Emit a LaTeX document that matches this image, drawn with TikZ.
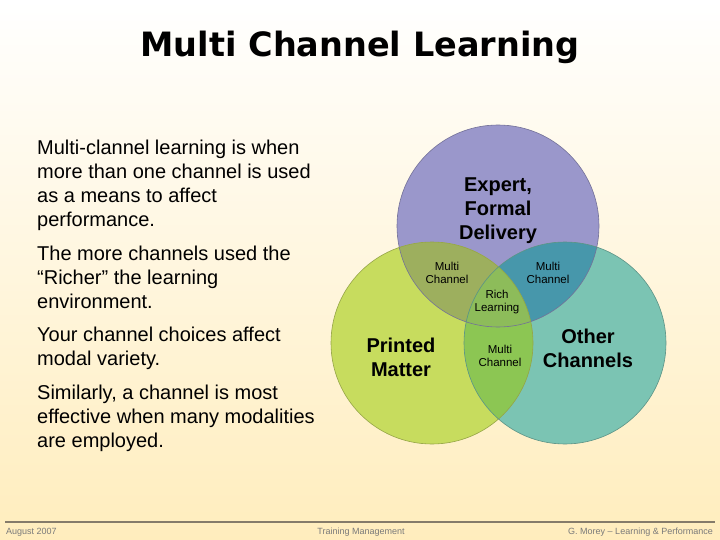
\documentclass[tikz,border=0pt]{standalone}
\usepackage{fontspec}
\setmainfont{Liberation Sans}
\newfontfamily\headfont{DejaVu Sans}
\usetikzlibrary{positioning}
\definecolor{cpurple}{HTML}{9A97CB}
\definecolor{cyellow}{HTML}{C7DC5E}
\definecolor{cteal}{HTML}{7BC4B3}
\definecolor{cpy}{HTML}{9DAF5E}
\definecolor{cpt}{HTML}{4797AB}
\definecolor{cyt}{HTML}{8CC653}
\definecolor{crich}{HTML}{8DBC5A}
\definecolor{cbottom}{HTML}{FFEDBD}
\definecolor{cline}{HTML}{857B6A}
\definecolor{cgrey}{HTML}{7A7A7A}
\tikzset{
  body/.style={anchor=north west, inner sep=0pt, align=left, font=\fontsize{20}{24}\selectfont},
  big/.style={inner sep=0pt, align=center, font=\fontsize{20}{24}\selectfont\bfseries},
  small/.style={inner sep=0pt, align=center, font=\fontsize{11.5}{13.5}\selectfont},
  foot/.style={inner sep=0pt, text=cgrey, font=\fontsize{9}{11}\selectfont},
  ring/.style={draw=#1!75!black, line width=0.6pt},
}
\begin{document}
\begin{tikzpicture}[x=1pt, y=-1pt]
  % ---- background and title ----
  \shade[top color=white, bottom color=cbottom] (0,0) rectangle (720,540);
  \useasboundingbox (0,0) rectangle (720,540);
  \node[font=\headfont\fontsize{33.5}{36}\selectfont\bfseries] (title) at (360,47) {Multi Channel Learning};
  % ---- left: the text ----
  \node[body] (p1) at (37,140) {Multi-clannel learning is when\\more than one channel is used\\as a means to affect\\performance.};
  \node[body] (p2) at (37,246) {The more channels used the\\``Richer'' the learning\\environment.};
  \node[body] (p3) at (37,327) {Your channel choices affect\\modal variety.};
  \node[body] (p4) at (37,385) {Similarly, a channel is most\\effective when many modalities\\are employed.};
  % ---- right: three channels ----
  \coordinate (cexp) at (498,226);
  \coordinate (cprt) at (432,343);
  \coordinate (coth) at (565,343);
  \fill[cpurple] (cexp) circle[radius=101pt];
  \fill[cyellow] (cprt) circle[radius=101pt];
  \fill[cteal] (coth) circle[radius=101pt];
  \begin{scope}
    \clip (cexp) circle[radius=101pt];
    \fill[cpy] (cprt) circle[radius=101pt];
    \fill[cpt] (coth) circle[radius=101pt];
  \end{scope}
  \begin{scope}
    \clip (cprt) circle[radius=101pt];
    \clip (coth) circle[radius=101pt];
    \fill[cyt] (330,240) rectangle (670,450);
    \clip (cexp) circle[radius=101pt];
    \fill[crich] (330,120) rectangle (670,450);
  \end{scope}
  \draw[ring=cpurple] (cexp) circle[radius=101pt];
  \draw[ring=cyellow] (cprt) circle[radius=101pt];
  \draw[ring=cteal] (coth) circle[radius=101pt];
  \node[big] (expert) at (498,211) {Expert,\\Formal\\Delivery};
  \node[big] (printed) at (401,357) {Printed\\Matter};
  \node[big] (other) at (588,348) {Other\\Channels};
  \node[small] (mc1) at (447,273) {Multi\\Channel};
  \node[small] (mc2) at (548,273) {Multi\\Channel};
  \node[small] (rich) at (497,302) {Rich\\Learning};
  \node[small] (mc3) at (500,356) {Multi\\Channel};
  % ---- footer ----
  \draw[cline, line width=2pt] (5,522) -- (715,522);
  \node[foot, anchor=west] (date) at (6,532) {August 2007};
  \node[foot] (mgmt) at (361,532) {Training Management};
  \node[foot, anchor=east] (author) at (713,532) {G. Morey -- Learning \& Performance};
\end{tikzpicture}
\end{document}
